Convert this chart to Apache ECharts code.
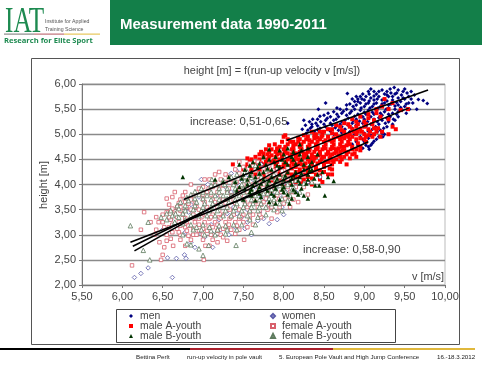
<!DOCTYPE html>
<html><head><meta charset="utf-8">
<style>html,body{margin:0;padding:0;background:#fff}#c{width:482px;height:367px}</style>
<script src="https://cdn.jsdelivr.net/npm/echarts@6/dist/echarts.min.js"></script>
</head><body><div id="c"></div>
<script>
const men1=[[9.37,5.93],[8.79,5.81],[8.52,5.62],[8.43,5.50],[8.05,5.22],[9.78,5.61],[9.73,5.67],[9.67,5.69],[9.65,5.50],[9.06,4.70],[9.23,4.95],[9.36,5.30],
[9.05,5.85],[9.12,5.85],[9.22,5.88],[9.28,5.85],[9.33,5.82],[9.42,5.88],[9.48,5.85],[9.53,5.82],[9.15,5.80],[9.25,5.80],[9.38,5.80],[9.46,5.78],[9.55,5.75],
[8.95,5.75],[9.02,5.75],[9.08,5.72],[9.18,5.75],[9.3,5.75],[9.42,5.72],[9.5,5.7],[9.58,5.7],[8.92,5.7],[9.0,5.68],[9.12,5.68],[9.22,5.68],[9.35,5.68],[9.45,5.65],[9.55,5.62],
[8.88,5.65],[8.95,5.62],[9.05,5.62],[9.15,5.62],[9.25,5.62],[9.33,5.6],[9.42,5.58],[9.5,5.55],[8.82,5.6],[8.9,5.58],[9.0,5.55],[9.1,5.55],[9.2,5.55],[9.3,5.52],[9.38,5.5],[9.47,5.48],
[8.7,5.5],[8.78,5.5],[8.88,5.5],[8.95,5.48],[9.05,5.48],[9.15,5.48],[9.25,5.45],[9.35,5.42],[8.62,5.45],[8.72,5.42],[8.82,5.42],[8.92,5.4],[9.02,5.4],[9.12,5.4],[9.22,5.38],[9.32,5.35],[9.42,5.35],
[8.5,5.38],[8.58,5.35],[8.68,5.35],[8.8,5.32],[8.9,5.3],[9.0,5.3],[9.12,5.3],[9.22,5.28],[9.3,5.25],[8.42,5.3],[8.52,5.28],[8.62,5.28],[8.72,5.25],[8.85,5.22],[8.98,5.22],[9.08,5.2],[9.18,5.2],[9.28,5.15],
[8.25,5.28],[8.32,5.25],[8.4,5.22],[8.5,5.2],[8.6,5.18],[8.72,5.15],[8.85,5.12],[8.95,5.12],[9.1,5.1],[9.2,5.08],[8.27,5.18],[8.35,5.15],[8.45,5.12],[8.55,5.1],[8.68,5.08],[8.82,5.05],[9.0,5.02],[9.12,5.0],[9.25,5.0],
[8.23,5.1],[8.3,5.08],[8.28,5.02],[8.38,5.05],[8.48,5.02],[8.62,5.0],[8.78,4.98],[8.95,4.95],[9.05,4.92],[9.15,4.9],[8.9,4.85],[9.0,4.85],[9.1,4.82],[8.92,4.78],[9.02,4.78],[9.05,4.75],[8.85,4.8]];
const men2=[[9.08,5.9],[9.18,5.85],[9.32,5.9],[9.4,5.82],[9.5,5.9],[9.58,5.85],[9.62,5.78],[9.28,5.78],[9.12,5.76],[9.06,5.8],[8.98,5.8],[9.35,5.75],[9.48,5.72],[9.6,5.62],[9.52,5.6],[9.4,5.63],[9.28,5.66],[9.16,5.7],[9.06,5.66],[8.97,5.7],[8.9,5.75],[8.85,5.7],
[8.92,5.65],[9.02,5.6],[9.12,5.6],[9.22,5.6],[9.3,5.58],[9.38,5.56],[9.45,5.53],[9.56,5.5],[8.78,5.58],[8.86,5.55],[8.96,5.52],[9.07,5.52],[9.17,5.52],[9.27,5.5],[9.42,5.45],[9.52,5.42],
[8.66,5.52],[8.74,5.46],[8.84,5.46],[9.0,5.44],[9.1,5.44],[9.2,5.42],[9.3,5.4],[9.4,5.4],[8.55,5.42],[8.66,5.4],[8.78,5.38],[8.88,5.36],[8.98,5.35],[9.08,5.35],[9.18,5.33],[9.28,5.32],[9.38,5.28],
[8.45,5.36],[8.54,5.32],[8.65,5.3],[8.76,5.28],[8.86,5.27],[8.94,5.26],[9.04,5.25],[9.16,5.25],[9.26,5.22],[9.35,5.2],[8.36,5.3],[8.46,5.25],[8.58,5.22],[8.7,5.2],[8.8,5.18],[8.9,5.18],[9.02,5.16],[9.14,5.15],[9.24,5.12],
[8.35,5.2],[8.42,5.17],[8.52,5.15],[8.64,5.13],[8.76,5.1],[8.9,5.08],[9.05,5.06],[9.16,5.05],[9.22,5.02],[8.33,5.12],[8.42,5.09],[8.58,5.06],[8.72,5.03],[8.88,5.0],[9.08,4.98],[9.18,4.95],[8.98,4.9],[9.12,4.86],[9.08,4.78],[8.98,4.72]];
const maleA1=[[7.37,4.40],[7.89,4.80],[8.02,4.98],[9.54,5.50],[9.39,5.10],[8.90,4.55],[8.78,4.40],[8.57,4.32],[9.45,5.48],[9.35,5.62],[9.25,5.7],
[8.0,4.95],[8.05,4.9],[8.12,4.85],[8.2,4.9],[8.3,4.95],[8.4,5.0],[8.5,5.05],[8.6,5.1],[8.7,5.15],[8.8,5.2],[8.9,5.25],[9.0,5.25],[9.1,5.2],
[7.78,4.7],[7.85,4.7],[7.95,4.75],[8.05,4.8],[8.15,4.8],[8.25,4.85],[8.35,4.85],[8.45,4.9],[8.55,4.95],[8.65,5.0],[8.75,5.05],[8.85,5.1],[8.95,5.1],[9.05,5.1],[9.15,5.05],
[7.7,4.6],[7.8,4.6],[7.9,4.65],[8.0,4.7],[8.1,4.7],[8.2,4.75],[8.3,4.75],[8.4,4.8],[8.5,4.85],[8.6,4.85],[8.7,4.9],[8.8,4.95],[8.9,5.0],[9.0,5.0],[9.1,4.95],[9.2,4.95],
[7.6,4.5],[7.7,4.5],[7.8,4.5],[7.9,4.55],[8.0,4.6],[8.1,4.6],[8.2,4.65],[8.3,4.65],[8.4,4.7],[8.5,4.75],[8.6,4.75],[8.7,4.8],[8.8,4.85],[8.9,4.9],[9.0,4.9],
[7.55,4.4],[7.65,4.4],[7.75,4.4],[7.85,4.45],[7.95,4.5],[8.05,4.5],[8.15,4.55],[8.25,4.55],[8.35,4.6],[8.45,4.65],[8.55,4.65],[8.65,4.7],[8.75,4.75],[8.85,4.75],[8.95,4.75],
[7.5,4.3],[7.6,4.3],[7.7,4.3],[7.8,4.35],[7.9,4.4],[8.0,4.4],[8.1,4.45],[8.2,4.45],[8.3,4.5],[8.4,4.55],[8.5,4.55],[8.6,4.6],[8.7,4.65],[8.8,4.65],[8.9,4.7],
[7.65,4.2],[7.75,4.2],[7.85,4.25],[7.95,4.3],[8.05,4.3],[8.15,4.35],[8.25,4.35],[8.35,4.4],[8.45,4.45],[8.55,4.45],[8.65,4.5],[8.75,4.55],[8.85,4.6],
[7.7,4.1],[7.8,4.1],[7.9,4.15],[8.0,4.2],[8.1,4.2],[8.2,4.25],[8.3,4.25],[8.4,4.3],[8.5,4.35],[8.6,4.4],[8.7,4.45],
[7.9,4.05],[8.0,4.1],[8.1,4.1],[8.2,4.15],[8.3,4.15],[8.4,4.2],[8.5,4.25],[8.6,4.3],[8.0,4.0],[8.15,4.05],[8.3,4.05],[8.45,4.1],[8.55,4.2],
[7.92,4.6],[8.02,4.65],[8.12,4.72],[8.22,4.72],[8.32,4.72],[8.42,4.75],[8.52,4.8],[8.62,4.8],[8.72,4.85],[8.82,4.9],[8.08,4.55],[8.18,4.58],[8.28,4.6],[8.38,4.65],[8.48,4.7],[8.58,4.7],[8.68,4.72],[8.78,4.78],
[8.03,4.42],[8.13,4.48],[8.23,4.5],[8.33,4.52],[8.43,4.58],[8.53,4.6],[8.63,4.62],[8.73,4.68],[7.82,4.55],[7.72,4.42],[7.62,4.35],[7.95,4.35],[8.07,4.37],[8.17,4.4],[8.27,4.42],[8.37,4.47],[8.47,4.5],[8.57,4.52],
[7.55,4.52],[7.75,4.62],[8.9,5.15],[9.0,5.15],[9.12,5.12],[9.22,5.05],[9.3,5.0],[9.05,5.32],[9.15,5.42],[9.3,5.5],[8.85,4.95],[8.95,4.92],[9.05,4.98],[8.75,4.92],[8.62,4.92],[8.42,4.93],[8.32,4.88],[8.18,4.93]];
const maleA2=[[8.35,5.05],[8.45,5.05],[8.55,5.1],[8.65,5.18],[8.75,5.22],[8.85,5.3],[8.95,5.35],[9.05,5.4],[9.15,5.5],[9.22,5.55],[8.25,4.98],[8.38,4.98],[8.48,4.98],[8.6,5.02],[8.72,5.08],[8.82,5.15],[8.92,5.2],[9.02,5.2],[9.12,5.28],[9.2,5.35],[9.3,5.3],[9.35,5.15],
[7.98,4.85],[8.08,4.85],[8.18,4.85],[8.28,4.9],[8.38,4.92],[8.47,4.95],[8.57,4.88],[8.67,4.95],[8.77,4.98],[8.87,5.05],[8.97,5.05],[9.07,5.05],[9.17,5.12],
[7.82,4.78],[7.92,4.72],[8.02,4.75],[8.12,4.78],[8.22,4.8],[8.32,4.8],[8.42,4.85],[8.52,4.88],[8.62,4.88],[8.72,4.95],[8.82,5.0],[8.92,5.05],[9.02,4.95],[9.12,5.0],
[7.72,4.65],[7.82,4.65],[7.92,4.7],[8.02,4.68],[8.12,4.68],[8.22,4.68],[8.32,4.68],[8.42,4.72],[8.52,4.72],[8.62,4.72],[8.72,4.75],[8.82,4.8],[8.92,4.82],[9.02,4.85],
[7.65,4.55],[7.75,4.55],[7.85,4.58],[7.95,4.62],[8.05,4.62],[8.15,4.62],[8.25,4.62],[8.35,4.55],[8.45,4.6],[8.55,4.62],[8.65,4.65],[8.75,4.68],[8.85,4.7],[8.95,4.68],
[7.58,4.45],[7.68,4.45],[7.78,4.45],[7.88,4.48],[7.98,4.55],[8.08,4.52],[8.18,4.5],[8.28,4.55],[8.38,4.52],[8.48,4.55],[8.58,4.55],[8.68,4.58],[8.78,4.6],[8.88,4.62],
[7.52,4.35],[7.62,4.38],[7.72,4.35],[7.82,4.4],[7.92,4.45],[8.02,4.45],[8.12,4.4],[8.22,4.4],[8.32,4.45],[8.42,4.42],[8.52,4.45],[8.62,4.45],[8.72,4.5],[8.82,4.52],
[7.6,4.25],[7.7,4.25],[7.8,4.28],[7.9,4.32],[8.0,4.35],[8.1,4.32],[8.2,4.3],[8.3,4.33],[8.4,4.35],[8.5,4.4],[8.6,4.48],[8.7,4.55],[7.75,4.15],[7.85,4.18],[7.95,4.22],[8.05,4.22],[8.15,4.25],[8.25,4.2],[8.35,4.25],[8.45,4.28],
[7.85,4.08],[7.95,4.12],[8.05,4.12],[8.15,4.15],[8.25,4.1],[8.35,4.12],[8.45,4.18],[7.98,4.02],[8.1,4.02],[8.22,4.05],[8.35,4.0],[8.48,4.05],[8.6,4.2]];
const maleB1=[[6.75,4.15],[8.51,3.78],[8.39,3.98],[8.44,3.98],[8.55,4.15],[8.62,4.07],[7.15,4.1],[7.25,4.05],[7.32,4.15],[7.45,4.4],[7.62,4.45],[7.75,4.55],[7.82,4.7],[7.95,4.68],[8.05,4.72],[8.2,4.8],[8.3,4.72],
[7.5,4.2],[7.6,4.25],[7.68,4.35],[7.78,4.4],[7.88,4.45],[7.98,4.5],[8.1,4.55],[8.2,4.6],[8.3,4.55],[8.42,4.6],[7.4,4.05],[7.55,4.1],[7.65,4.15],[7.75,4.25],[7.85,4.3],[7.95,4.35],[8.05,4.4],[8.15,4.42],[8.25,4.4],[8.35,4.45],
[7.45,3.95],[7.55,4.0],[7.65,4.05],[7.75,4.1],[7.85,4.15],[7.95,4.2],[8.05,4.25],[8.15,4.25],[8.25,4.3],[8.35,4.3],[7.6,3.9],[7.7,3.95],[7.8,4.0],[7.9,4.05],[8.0,4.1],[8.1,4.12],[8.2,4.15],[8.3,4.2],[8.42,4.2],
[7.7,3.82],[7.8,3.88],[7.9,3.92],[8.0,3.95],[8.1,4.0],[8.2,4.02],[8.3,4.1],[7.88,3.78],[8.0,3.85],[8.12,3.9],[8.22,3.92],[7.5,3.7],[7.6,3.78],[7.95,3.7],[8.25,3.78],[8.3,3.72],[7.82,3.65],[8.07,3.62],[8.18,3.8]];
const maleB2=[[7.52,4.3],[7.58,4.38],[7.7,4.42],[7.82,4.5],[7.9,4.55],[8.0,4.6],[8.12,4.65],[8.22,4.68],[7.48,4.12],[7.58,4.18],[7.7,4.22],[7.8,4.32],[7.92,4.38],[8.02,4.45],[8.12,4.5],[8.22,4.5],[8.32,4.38],[7.42,3.88],[7.52,3.92],[7.62,3.98],[7.72,4.02],[7.82,4.08],[7.92,4.12],[8.02,4.18],[8.12,4.18],[8.22,4.22],[8.32,4.28],[7.58,3.85],[7.68,3.88],[7.78,3.92],[7.88,3.98],[7.98,4.02],[8.08,4.08],[8.18,4.08],[8.28,4.02],[7.72,3.75],[7.85,3.82],[7.98,3.9],[8.05,3.8],[8.15,3.85],[7.65,3.68],[7.9,3.62],[8.1,3.72],[8.38,4.12],[8.48,4.25]];
const women1=[[6.15,2.15],[6.23,2.23],[6.32,2.34],[6.62,2.15],[6.56,2.54],[6.67,2.53],[6.79,2.53],[6.77,2.60],[6.98,4.10],[7.06,4.0],[7.35,4.22],[7.42,4.27],[7.72,4.4],[7.8,4.35],[7.62,4.1],[7.98,3.55],
[6.72,3.62],[6.82,3.45],[6.9,3.3],[6.95,3.05],[7.1,3.2],[7.2,3.3],[7.3,3.42],[7.4,3.15],[7.48,3.35],[7.55,3.5],[7.62,3.62],[7.7,3.45],[7.78,3.7],[7.85,3.82],[7.92,3.95],[8.0,4.02],[8.08,4.12],[8.15,3.85],[8.22,4.2],
[6.5,3.1],[6.6,3.3],[6.68,3.2],[6.78,3.05],[6.85,2.85],[6.9,2.75],[7.02,2.95],[7.12,3.02],[7.22,3.1],[7.32,3.0],[7.42,3.42],[7.5,3.7],[7.58,3.85],[7.65,3.95],[7.72,3.75],[7.8,3.55],[7.88,3.62],[7.95,3.78],[8.05,3.9],[8.12,3.98],[8.3,4.05],[8.45,4.15],
[6.85,3.6],[6.95,3.75],[7.05,3.5],[7.15,3.62],[7.25,3.72],[7.35,3.85],[7.45,3.98],[7.55,3.25],[7.68,3.28],[7.75,3.32],[7.82,3.22],[7.92,3.3],[8.0,3.4],[7.38,3.55],[7.28,3.58],[7.18,3.8],[7.08,3.88],[7.52,3.12],[7.6,3.0],[7.12,2.75],[7.28,3.95],[7.48,4.08],[7.55,4.2]];
const femaleA1=[[6.12,2.39],[6.23,3.10],[6.27,3.45],[6.48,2.50],[7.01,2.50],[7.20,4.25],[7.51,2.90],[6.5,2.6],[6.52,2.75],[6.46,2.85],[6.63,2.78],[6.78,2.78],[7.03,2.78],[7.08,2.78],[7.18,2.85],[6.88,3.0],[6.4,3.0],[6.35,3.25],[6.45,3.25],[6.42,3.1],
[6.55,3.0],[6.62,3.05],[6.72,3.0],[6.82,2.98],[6.92,3.0],[7.0,3.0],[7.1,3.0],[7.22,3.0],[6.58,3.15],[6.68,3.12],[6.78,3.15],[6.88,3.12],[7.0,3.12],[7.12,3.15],[7.25,3.12],[7.35,3.1],[7.45,3.1],
[6.5,3.25],[6.6,3.3],[6.7,3.25],[6.8,3.25],[6.9,3.25],[7.02,3.25],[7.15,3.25],[7.28,3.25],[7.4,3.25],[7.5,3.25],[7.62,3.2],[6.55,3.45],[6.65,3.42],[6.75,3.4],[6.88,3.4],[7.0,3.4],[7.12,3.4],[7.25,3.4],[7.38,3.4],[7.5,3.4],[7.62,3.4],[7.72,3.35],[7.85,3.32],
[6.58,3.6],[6.68,3.55],[6.8,3.55],[6.92,3.55],[7.05,3.55],[7.18,3.55],[7.3,3.55],[7.42,3.55],[7.55,3.55],[7.68,3.55],[7.8,3.5],[7.92,3.45],[6.62,3.75],[6.55,3.72],[6.72,3.7],[6.85,3.7],[7.0,3.7],[7.12,3.7],[7.25,3.7],[7.38,3.7],[7.5,3.7],[7.62,3.7],[7.75,3.65],[7.88,3.65],[8.0,3.62],
[6.65,3.85],[6.78,3.85],[6.92,3.85],[7.05,3.85],[7.18,3.85],[7.3,3.85],[7.42,3.85],[7.55,3.85],[7.68,3.85],[7.8,3.8],[7.92,3.78],[8.05,3.75],[8.12,3.7],[6.85,4.0],[7.0,3.95],[7.12,3.95],[7.25,3.98],[7.38,4.0],[7.5,4.0],[7.62,4.0],[7.75,4.0],[7.88,3.95],[8.0,3.9],[8.12,3.85],[8.25,3.95],
[7.02,4.1],[7.08,4.1],[7.22,4.1],[7.35,4.1],[7.48,4.15],[7.6,4.15],[7.72,4.15],[7.85,4.12],[7.98,4.05],[8.1,4.05],[7.15,4.2],[7.28,4.2],[7.4,4.3],[7.52,4.3],[7.65,4.3],[7.78,4.25],[7.9,4.2],[8.0,4.22],[8.2,4.1],[7.58,4.42],[7.45,4.45],[7.68,4.45],[7.82,4.38],[7.92,4.32],[8.05,4.32],
[7.3,3.15],[7.2,3.35],[7.08,3.32],[6.95,3.32],[6.72,3.48],[6.82,3.62],[7.33,3.32],[7.45,3.32],[7.58,3.32],[7.7,3.48],[7.82,3.6],[7.95,3.55],[8.08,3.55],[8.18,3.65],[8.3,3.8]];
const femaleA2=[[6.42,3.35],[6.5,3.4],[6.6,3.48],[6.52,3.15],[6.62,3.2],[6.72,3.18],[6.82,3.18],[6.95,3.2],[7.07,3.18],[7.18,3.2],[7.32,3.2],[7.42,3.18],[7.55,3.15],[6.58,3.35],[6.68,3.35],[6.78,3.33],[6.88,3.33],[6.98,3.35],[7.1,3.35],[7.22,3.33],[7.35,3.35],[7.47,3.35],[7.58,3.45],[7.7,3.4],
[6.62,3.52],[6.72,3.55],[6.85,3.5],[6.95,3.5],[7.08,3.5],[7.2,3.48],[7.33,3.5],[7.45,3.5],[7.58,3.6],[7.72,3.6],[7.85,3.55],[6.7,3.63],[6.78,3.65],[6.9,3.62],[7.02,3.65],[7.15,3.65],[7.28,3.63],[7.4,3.63],[7.52,3.65],[7.65,3.65],[7.78,3.72],[7.9,3.72],[8.02,3.72],
[6.75,3.78],[6.88,3.78],[7.0,3.8],[7.1,3.8],[7.22,3.78],[7.35,3.78],[7.47,3.8],[7.6,3.8],[7.72,3.82],[7.85,3.88],[7.97,3.85],[8.08,3.85],[6.95,3.92],[7.07,3.92],[7.2,3.92],[7.32,3.92],[7.45,3.92],[7.58,3.93],[7.7,3.95],[7.82,3.98],[7.95,4.0],[8.05,3.95],[8.15,3.95],
[7.15,4.05],[7.28,4.05],[7.42,4.05],[7.55,4.08],[7.68,4.08],[7.8,4.08],[7.92,4.1],[8.05,4.12],[7.32,4.15],[7.45,4.22],[7.58,4.22],[7.7,4.22],[7.83,4.2],[7.95,4.15],[7.5,4.35],[7.62,4.37],[7.75,4.32],[7.87,4.28],[7.98,4.27],
[6.7,3.05],[6.8,3.08],[6.95,3.08],[7.05,3.08],[7.18,3.08],[7.4,3.02],[6.72,2.9],[6.85,2.9],[7.0,2.9],[7.12,2.9],[7.25,2.95],[6.6,2.92],[6.55,2.88],[7.3,2.88]];
const femaleB1=[[6.10,3.18],[6.26,2.69],[6.34,2.50],[6.32,3.25],[7.0,2.59],[7.07,2.79],[7.41,2.79],[7.11,4.10],[6.85,2.8],[6.95,2.72],[6.8,2.82],[6.75,3.0],[7.6,3.05],[7.65,3.2],
[6.48,3.35],[6.55,3.3],[6.62,3.38],[6.7,3.35],[6.78,3.3],[6.85,3.2],[6.92,3.15],[7.0,3.2],[7.1,3.08],[7.2,3.18],[7.28,3.18],[7.38,3.2],[7.48,3.2],[7.58,3.3],[7.68,3.35],[7.78,3.4],[7.88,3.5],[7.98,3.48],
[6.6,3.48],[6.7,3.52],[6.78,3.48],[6.88,3.5],[6.98,3.48],[7.08,3.48],[7.18,3.48],[7.28,3.48],[7.38,3.48],[7.48,3.48],[7.58,3.48],[7.68,3.48],[7.78,3.55],[7.88,3.7],[7.98,3.72],[8.08,3.78],[8.2,3.85],
[6.72,3.65],[6.82,3.68],[6.92,3.65],[7.02,3.62],[7.12,3.62],[7.22,3.62],[7.32,3.65],[7.42,3.62],[7.52,3.62],[7.62,3.62],[7.72,3.62],[7.82,3.72],[7.92,3.85],[8.02,3.85],[8.12,3.95],[8.25,4.02],[8.35,4.05],
[6.85,3.8],[6.95,3.8],[7.05,3.78],[7.15,3.78],[7.25,3.78],[7.35,3.78],[7.45,3.78],[7.55,3.78],[7.65,3.78],[7.75,3.82],[7.85,3.9],[7.95,3.98],[8.05,4.0],[8.15,4.08],
[6.98,3.92],[7.1,3.98],[7.2,3.92],[7.3,3.92],[7.4,3.92],[7.5,3.92],[7.6,3.92],[7.7,3.92],[7.8,3.98],[7.9,4.1],[8.0,4.15],[7.25,4.08],[7.4,4.08],[7.52,4.08],[7.65,4.08],[7.78,4.08],[7.88,4.2],[7.7,4.22],[7.55,4.25],[7.42,4.2],[7.8,4.3],[7.65,4.38]];
const femaleB2=[[6.55,3.42],[6.66,3.42],[6.75,3.42],[6.85,3.38],[6.95,3.38],[7.05,3.38],[7.15,3.38],[7.25,3.38],[7.35,3.38],[7.45,3.38],[7.55,3.38],[6.68,3.58],[6.78,3.58],[6.9,3.58],[7.0,3.55],[7.1,3.55],[7.2,3.55],[7.3,3.55],[7.4,3.55],[7.5,3.55],[7.6,3.55],[7.7,3.55],[7.85,3.62],[7.95,3.62],[8.05,3.68],
[6.8,3.74],[6.9,3.72],[7.0,3.72],[7.1,3.7],[7.2,3.7],[7.3,3.72],[7.4,3.7],[7.5,3.7],[7.6,3.7],[7.7,3.7],[7.8,3.82],[7.9,3.92],[8.0,3.95],[8.1,3.88],[6.9,3.86],[7.0,3.85],[7.1,3.85],[7.2,3.85],[7.3,3.85],[7.4,3.85],[7.5,3.85],[7.6,3.85],[7.7,3.85],
[7.15,4.0],[7.27,4.0],[7.38,4.0],[7.48,4.0],[7.58,4.0],[7.68,4.0],[7.8,4.02],[7.92,4.02],[7.35,4.15],[7.48,4.14],[7.6,4.14],[7.72,4.15],[7.85,4.15],[6.75,3.22],[6.65,3.25],[6.88,3.1],[6.98,3.1],[7.08,3.15],[7.18,3.1],[7.3,3.1],[7.42,3.1],[7.02,3.0],[7.15,3.0],[7.28,3.02]];
const lineMen=[[8.04,4.88],[9.79,5.88]];
const lineMaleA=[[6.76,3.70],[9.55,5.52]];
const lineMaleB=[[7.35,3.62],[9.05,4.85]];
const lineWomen=[[6.10,2.85],[8.60,4.40]];
const lineFemaleA=[[6.13,2.77],[8.20,4.40]];
const lineFemaleB=[[6.15,2.68],[8.00,4.35]];
const regressions=[lineMen,lineMaleA,lineMaleB,lineWomen,lineFemaleA,lineFemaleB];
const fmt=v=>v.toFixed(2).replace('.',',');
const txt='#444';
const font='"Liberation Sans", Arial, sans-serif';
const tstyle={fontFamily:font,fill:txt};
const chart=echarts.init(document.getElementById('c'),null,{renderer:'canvas'});
function sc(name,data,symbol,size,color,hollow,z){
  return {name,type:'scatter',data,symbol,symbolSize:size,silent:true,animation:false,z,
    itemStyle:hollow?{color:'#fff',opacity:1,borderColor:color,borderWidth:0.8}:{color,opacity:1}};
}
const series=[
  sc('men',men1.concat(men2),'diamond',4,'#000080',false,2),
  sc('male A-youth',maleA1.concat(maleA2),'rect',4,'#ff0000',false,2),
  sc('women',women1,'diamond',4.5,'#5a5aa8',true,2),
  sc('female A-youth',femaleA1.concat(femaleA2),'rect',3.5,'#d8606c',true,2),
  sc('female B-youth',femaleB1.concat(femaleB2),'triangle',4.5,'#5d7a5d',true,2),
  sc('male B-youth',maleB1.concat(maleB2),'triangle',4.5,'#003300',false,3)
];
regressions.forEach(d=>series.push({type:'line',data:d,symbol:'none',silent:true,animation:false,z:5,lineStyle:{color:'#000',width:1.6}}));
const lg={orient:'vertical',itemWidth:4,itemHeight:4,itemGap:0,padding:0,selectedMode:false,z:5,textStyle:{fontFamily:font,fontSize:10.4,color:txt,lineHeight:10,height:10,padding:[0,0,0,2]}};
chart.setOption({
  animation:false,
  backgroundColor:'#fff',
  grid:{left:82,right:37,top:84,bottom:82,show:true,borderColor:'#bbb',borderWidth:1,backgroundColor:'#fff'},
  xAxis:{type:'value',min:5.5,max:10,interval:0.5,
    axisLine:{onZero:false,lineStyle:{color:'#777'}},axisTick:{length:3,lineStyle:{color:'#777'}},
    splitLine:{show:false},axisLabel:{formatter:fmt,fontFamily:font,fontSize:11,color:txt,margin:6}},
  yAxis:{type:'value',min:2,max:6,interval:0.5,
    axisLine:{show:true,lineStyle:{color:'#777'}},axisTick:{show:true,length:3,lineStyle:{color:'#777'}},
    splitLine:{lineStyle:{color:'#8a8a8a',width:1.3}},axisLabel:{formatter:fmt,fontFamily:font,fontSize:11,color:txt,margin:6}},
  legend:[
    Object.assign({},lg,{left:129,top:311,data:[{name:'men'},{name:'male A-youth'},{name:'male B-youth'}]}),
    Object.assign({},lg,{left:270,top:311,data:[{name:'women'},{name:'female A-youth'},{name:'female B-youth'}]})
  ],
  series,
  graphic:[
    {type:'rect',z:-10,silent:true,shape:{x:110,y:0,width:372,height:45},style:{fill:'#137f49'}},
    {type:'text',z:10,x:120,y:17,style:{text:'Measurement data 1990-2011',font:'bold 15px '+font,fill:'#fff'}},
    {type:'text',z:10,x:5,y:5,scaleX:0.72,style:{text:'IAT',font:'35px "Liberation Serif", serif',fill:'#1d8a50'}},
    {type:'rect',z:10,shape:{x:4,y:33.5,width:30,height:1.2},style:{fill:'#8a8a8a'}},
    {type:'rect',z:10,shape:{x:34,y:33.5,width:30,height:1.2},style:{fill:'#c07078'}},
    {type:'rect',z:10,shape:{x:64,y:33.5,width:36,height:1.2},style:{fill:'#e8c860'}},
    {type:'text',z:10,x:45,y:19,style:{text:'Institute for Applied',font:'5.2px '+font,fill:'#555'}},
    {type:'text',z:10,x:45,y:27,style:{text:'Training Science',font:'5.2px '+font,fill:'#555'}},
    {type:'text',z:10,x:4,y:37,style:{text:'Research for Elite Sport',font:'bold 7.6px "Open Sans", sans-serif',fill:'#1d8a50'}},
    {type:'rect',z:-10,silent:true,shape:{x:31.5,y:58.5,width:428,height:286},style:{fill:'#fff',stroke:'#555',lineWidth:1}},
    {type:'text',z:10,x:272,y:65,style:Object.assign({},tstyle,{text:'height [m] = f(run-up velocity v [m/s])',fontSize:10.9,textAlign:'center'})},
    {type:'text',z:10,x:190,y:116,style:Object.assign({},tstyle,{text:'increase: 0,51-0,65',fontSize:11.4})},
    {type:'text',z:10,x:303,y:244,style:Object.assign({},tstyle,{text:'increase: 0,58-0,90',fontSize:11.4})},
    {type:'text',z:10,x:444,y:271,style:Object.assign({},tstyle,{text:'v [m/s]',fontSize:10.9,textAlign:'right'})},
    {type:'text',z:10,x:44,y:185,rotation:Math.PI/2,style:Object.assign({},tstyle,{text:'height [m]',fontSize:10.9,textAlign:'center',textVerticalAlign:'middle'})},
    {type:'rect',z:1,silent:true,shape:{x:116.5,y:309.5,width:279,height:33},style:{fill:'#fff',stroke:'#444',lineWidth:1}},
    {type:'rect',z:10,shape:{x:0,y:348,width:190,height:2},style:{fill:'#000'}},
    {type:'rect',z:10,shape:{x:190,y:348,width:143,height:2},style:{fill:'#a8202c'}},
    {type:'rect',z:10,shape:{x:333,y:348,width:142,height:2},style:{fill:'#e0b83c'}},
    {type:'text',z:10,x:136,y:354,style:{text:'Bettina Perlt',font:'6.2px '+font,fill:'#222'}},
    {type:'text',z:10,x:187,y:354,style:{text:'run-up velocity in pole vault',font:'6.2px '+font,fill:'#222'}},
    {type:'text',z:10,x:279,y:354,style:{text:'5. European Pole Vault and High Jump Conference',font:'6.2px '+font,fill:'#222'}},
    {type:'text',z:10,x:437,y:354,style:{text:'16.-18.3.2012',font:'6.2px '+font,fill:'#222'}}
  ]
});
</script></body></html>
